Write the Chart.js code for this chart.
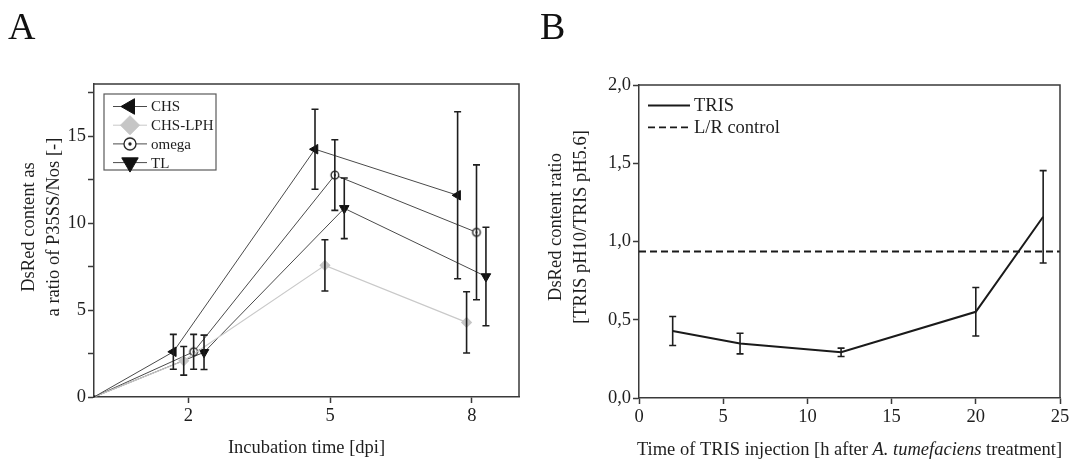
<!DOCTYPE html>
<html>
<head>
<meta charset="utf-8">
<script src="https://cdn.jsdelivr.net/npm/chart.js@4.4.0/dist/chart.umd.min.js"></script>
<style>
  body { margin: 0; background: #fff; width: 1075px; height: 460px; position: relative; overflow: hidden; font-family: "Liberation Serif", serif; }
  canvas { position: absolute; top: 0; }
  .tag { position: absolute; font-size: 38px; line-height: 38px; color: #111; z-index: 2; }
</style>
</head>
<body>
<canvas id="chartA" style="left:0" width="537" height="460"></canvas>
<canvas id="chartB" style="left:537px" width="538" height="460"></canvas>
<div class="tag" style="left:8px;top:7px">A</div>
<div class="tag" style="left:540px;top:7px">B</div>
<script>
// ---- panel A: DsRed content over incubation time ----
const dpiTicks = [2, 5, 8];
const chsX = [0, 1.68, 4.68, 7.7];
const chsY = [0, 2.6, 14.25, 11.6];
const chsSd = [0, 1.0, 2.3, 4.8];
const lphX = [0, 1.9, 4.89, 7.89];
const lphY = [0, 2.08, 7.57, 4.29];
const lphSd = [0, 0.82, 1.47, 1.76];
const omegaX = [0, 2.11, 5.1, 8.1];
const omegaY = [0, 2.6, 12.76, 9.47];
const omegaSd = [0, 1.0, 2.03, 3.88];
const tlX = [0, 2.33, 5.3, 8.3];
const tlY = [0, 2.57, 10.85, 6.93];
const tlSd = [0, 0.99, 1.74, 2.83];

// ---- panel B: TRIS injection time ----
const trisHours = [2, 6, 12, 20, 24];
const trisRatio = [0.428, 0.348, 0.292, 0.551, 1.158];
const trisSd = [0.093, 0.066, 0.027, 0.155, 0.295];
const controlHours = [0, 25];
const controlRatio = 0.936;

const FONT = '"Liberation Serif", "Times New Roman", serif';
const INK = '#1e1e1e';
const AXIS = '#3a3a3a';

const pts = (xs, ys) => xs.map((x, i) => ({x: x, y: ys[i]}));

function omegaMarker(r) {
  const s = Math.ceil(2 * r + 4);
  const c = document.createElement('canvas');
  c.width = c.height = s;
  const g = c.getContext('2d');
  g.beginPath();
  g.arc(s / 2, s / 2, r, 0, Math.PI * 2);
  g.fillStyle = '#fff';
  g.fill();
  g.lineWidth = 1.3;
  g.strokeStyle = '#222';
  g.stroke();
  g.beginPath();
  g.arc(s / 2, s / 2, Math.max(1, r * 0.28), 0, Math.PI * 2);
  g.fillStyle = '#222';
  g.fill();
  return c;
}
const omegaSmall = omegaMarker(3.8);
const omegaBig = omegaMarker(6);

// error bars from each dataset's sd array
const errorBars = {
  id: 'errorBars',
  afterDatasetsDraw(chart) {
    const {ctx, scales: {x, y}} = chart;
    ctx.save();
    ctx.strokeStyle = INK;
    ctx.lineWidth = 1.6;
    chart.data.datasets.forEach(ds => {
      if (!ds.sd) return;
      ds.data.forEach((p, i) => {
        const e = ds.sd[i];
        if (!e) return;
        const px = x.getPixelForValue(p.x);
        const top = y.getPixelForValue(p.y + e);
        const bot = y.getPixelForValue(p.y - e);
        ctx.beginPath();
        ctx.moveTo(px, top); ctx.lineTo(px, bot);
        ctx.moveTo(px - 3.5, top); ctx.lineTo(px + 3.5, top);
        ctx.moveTo(px - 3.5, bot); ctx.lineTo(px + 3.5, bot);
        ctx.stroke();
      });
    });
    ctx.restore();
  }
};

// closes the plot box (top and right edges)
const frame = {
  id: 'frame',
  afterDraw(chart) {
    const {ctx, chartArea: a} = chart;
    ctx.save();
    ctx.strokeStyle = AXIS;
    ctx.lineWidth = 1.5;
    ctx.beginPath();
    ctx.moveTo(a.left, a.top); ctx.lineTo(a.right, a.top); ctx.lineTo(a.right, a.bottom);
    ctx.stroke();
    ctx.restore();
  }
};

// rotated two-line y title, centred a little above the plot middle like the original
const yTitle = {
  id: 'yTitle',
  afterDraw(chart, args, opts) {
    const ctx = chart.ctx;
    ctx.save();
    ctx.fillStyle = INK;
    ctx.font = '18.5px ' + FONT;
    ctx.textAlign = 'center';
    ctx.textBaseline = 'middle';
    opts.lines.forEach((t, i) => {
      ctx.save();
      ctx.translate(opts.x + i * 25, opts.cy);
      ctx.rotate(-Math.PI / 2);
      ctx.fillText(t, 0, 0);
      ctx.restore();
    });
    ctx.restore();
  }
};

const legendA = {
  id: 'legendA',
  afterDraw(chart) {
    const {ctx, chartArea: a} = chart;
    const bx = a.left + 10, by = a.top + 10;
    ctx.save();
    ctx.fillStyle = '#fff';
    ctx.fillRect(bx, by, 112, 76);
    ctx.strokeStyle = '#5a5a5a';
    ctx.lineWidth = 1.2;
    ctx.strokeRect(bx, by, 112, 76);
    chart.data.datasets.forEach((ds, i) => {
      const cy = by + 12.5 + i * 18.7;
      ctx.strokeStyle = ds.borderColor;
      ctx.lineWidth = 1;
      ctx.beginPath();
      ctx.moveTo(bx + 9, cy); ctx.lineTo(bx + 43, cy);
      ctx.stroke();
      ctx.fillStyle = ds.pointBackgroundColor;
      ctx.strokeStyle = ds.pointBorderColor;
      ctx.lineWidth = 1;
      Chart.helpers.drawPoint(ctx, {
        pointStyle: ds.legendStyle, rotation: ds.pointRotation || 0,
        radius: ds.legendRadius, borderWidth: 1
      }, bx + 26, cy);
      ctx.fillStyle = INK;
      ctx.font = '15px ' + FONT;
      ctx.textBaseline = 'middle';
      ctx.fillText(ds.label, bx + 47, cy + 1);
    });
    ctx.restore();
  }
};

const legendB = {
  id: 'legendB',
  afterDraw(chart) {
    const {ctx, chartArea: a} = chart;
    ctx.save();
    ctx.font = '18.5px ' + FONT;
    ctx.textBaseline = 'middle';
    chart.data.datasets.forEach((ds, i) => {
      const cy = a.top + 20.5 + i * 21.8;
      ctx.strokeStyle = ds.borderColor;
      ctx.lineWidth = ds.borderWidth;
      ctx.setLineDash(ds.borderDash || []);
      ctx.beginPath();
      ctx.moveTo(a.left + 9, cy); ctx.lineTo(a.left + 51, cy);
      ctx.stroke();
      ctx.setLineDash([]);
      ctx.fillStyle = INK;
      ctx.fillText(ds.label, a.left + 55, cy + 1);
    });
    ctx.restore();
  }
};

// x title of B has an italic species name
const titleB = {
  id: 'titleB',
  afterDraw(chart) {
    const {ctx, chartArea: a} = chart;
    const parts = [['Time of TRIS injection [h after ', ''], ['A. tumefaciens', 'italic '], [' treatment]', '']];
    ctx.save();
    ctx.fillStyle = INK;
    ctx.textBaseline = 'alphabetic';
    let total = 0;
    const widths = parts.map(p => {
      ctx.font = p[1] + '18.5px ' + FONT;
      const w = ctx.measureText(p[0]).width;
      total += w;
      return w;
    });
    let x = (a.left + a.right) / 2 - total / 2;
    parts.forEach((p, i) => {
      ctx.font = p[1] + '18.5px ' + FONT;
      ctx.fillText(p[0], x, 455);
      x += widths[i];
    });
    ctx.restore();
  }
};

function axisBase() {
  return {
    border: {color: AXIS, width: 1.5},
    grid: {display: true, drawOnChartArea: false, color: AXIS, tickLength: 6, tickWidth: 1.5},
    ticks: {color: INK, font: {family: FONT, size: 18.5}, padding: 2, maxRotation: 0, autoSkip: false}
  };
}

const small = ctx => ctx.dataIndex === 0 ? 1.5 : null;

const chartA = new Chart(document.getElementById('chartA'), {
  type: 'line',
  data: {
    datasets: [
      {
        label: 'CHS', data: pts(chsX, chsY), sd: chsSd,
        borderColor: '#4a4a4a', borderWidth: 1, pointStyle: 'triangle', pointRotation: -90,
        pointRadius: ctx => small(ctx) || 5.5, pointBackgroundColor: '#111', pointBorderColor: '#111',
        legendStyle: 'triangle', legendRadius: 9
      },
      {
        label: 'CHS-LPH', data: pts(lphX, lphY), sd: lphSd,
        borderColor: '#c9c9c9', borderWidth: 1.2, pointStyle: 'rectRot',
        pointRadius: ctx => small(ctx) || 4.8, pointBackgroundColor: '#c6c6c6', pointBorderColor: '#c6c6c6',
        legendStyle: 'rectRot', legendRadius: 9.5
      },
      {
        label: 'omega', data: pts(omegaX, omegaY), sd: omegaSd,
        borderColor: '#4a4a4a', borderWidth: 1,
        pointStyle: ctx => ctx.dataIndex === 0 ? 'circle' : omegaSmall,
        pointRadius: ctx => small(ctx) || 4, pointBackgroundColor: '#111', pointBorderColor: '#111',
        legendStyle: omegaBig, legendRadius: 6
      },
      {
        label: 'TL', data: pts(tlX, tlY), sd: tlSd,
        borderColor: '#4a4a4a', borderWidth: 1, pointStyle: 'triangle', pointRotation: 180,
        pointRadius: ctx => small(ctx) || 5.5, pointBackgroundColor: '#111', pointBorderColor: '#111',
        legendStyle: 'triangle', legendRadius: 9.5
      }
    ]
  },
  options: {
    responsive: false,
    animation: false,
    devicePixelRatio: 1,
    layout: {padding: {top: 84, right: 18, left: 0, bottom: 0}},
    plugins: {
      legend: {display: false}, tooltip: {enabled: false},
      yTitle: {lines: ['DsRed content as', 'a ratio of P35SS/Nos [-]'], x: 29, cy: 227}
    },
    scales: {
      x: Object.assign(axisBase(), {
        type: 'linear', min: 0, max: 9,
        afterBuildTicks: s => { s.ticks = dpiTicks.map(v => ({value: v})); },
        afterFit: s => { s.height = 63; },
        title: {display: true, text: 'Incubation time [dpi]', color: INK, font: {family: FONT, size: 18.5, lineHeight: 1.15}, padding: {top: 0, bottom: 1}}
      }),
      y: Object.assign(axisBase(), {
        type: 'linear', min: 0, max: 18,
        afterFit: s => { s.width = 94; }
      })
    }
  },
  plugins: [frame, errorBars, legendA, yTitle]
});
// minor ticks on A's y axis: every 2.5, label only the multiples of 5
chartA.options.scales.y.ticks.stepSize = 2.5;
chartA.options.scales.y.ticks.includeBounds = false;
chartA.options.scales.y.ticks.callback = v => (v % 5 === 0 ? v : '');
chartA.update('none');

const chartB = new Chart(document.getElementById('chartB'), {
  type: 'line',
  data: {
    datasets: [
      {
        label: 'TRIS', data: pts(trisHours, trisRatio), sd: trisSd,
        borderColor: '#1a1a1a', borderWidth: 2, pointRadius: 0
      },
      {
        label: 'L/R control', data: controlHours.map(h => ({x: h, y: controlRatio})),
        borderColor: '#1a1a1a', borderWidth: 1.8, borderDash: [7, 4], pointRadius: 0
      }
    ]
  },
  options: {
    responsive: false,
    animation: false,
    devicePixelRatio: 1,
    layout: {padding: {top: 85, right: 15, left: 0, bottom: 0}},
    plugins: {
      legend: {display: false}, tooltip: {enabled: false},
      yTitle: {lines: ['DsRed content ratio', '[TRIS pH10/TRIS pH5.6]'], x: 19, cy: 227}
    },
    scales: {
      x: Object.assign(axisBase(), {
        type: 'linear', min: 0, max: 25,
        afterFit: s => { s.height = 62; }
      }),
      y: Object.assign(axisBase(), {
        type: 'linear', min: 0, max: 2,
        afterFit: s => { s.width = 102; }
      })
    }
  },
  plugins: [frame, errorBars, legendB, titleB, yTitle]
});
chartB.options.scales.x.ticks.stepSize = 5;
chartB.options.scales.y.ticks.stepSize = 0.5;
chartB.options.scales.y.ticks.callback = v => v.toFixed(1).replace('.', ',');
chartB.update('none');
</script>
</body>
</html>
